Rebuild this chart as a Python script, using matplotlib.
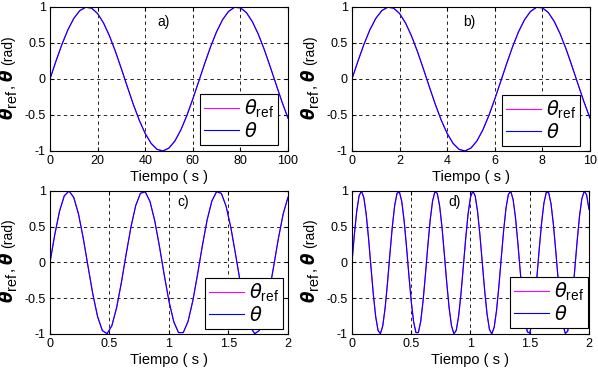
## four panels: reference angle vs. measured angle for sine inputs
import matplotlib
matplotlib.use('Agg')
from matplotlib import pyplot as plt
from matplotlib.transforms import IdentityTransform
import numpy as np

plt.rcParams['font.family'] = ['Liberation Sans', 'DejaVu Sans']
plt.rcParams['mathtext.fontset'] = 'custom'
plt.rcParams['mathtext.rm'] = 'Liberation Sans'
plt.rcParams['mathtext.it'] = 'DejaVu Sans:italic'
plt.rcParams['axes.unicode_minus'] = False

theta_ref_a = [0, 0.247, 0.479, 0.682, 0.841, 0.949, 0.997, 0.984, 0.909, 0.778,
               0.598, 0.382, 0.141, -0.108, -0.351, -0.572, -0.757, -0.895, -0.978, -0.999,
               -0.959, -0.860, -0.706, -0.508, -0.279, -0.033, 0.215, 0.450, 0.657, 0.823,
               0.938, 0.995, 0.989, 0.923, 0.798, 0.624, 0.412, 0.173, -0.075, -0.320, -0.544]
theta_a = list(theta_ref_a)   # the two traces coincide at this scale

theta_ref_b = [0, 0.247, 0.479, 0.682, 0.841, 0.949, 0.997, 0.984, 0.909, 0.778,
               0.598, 0.382, 0.141, -0.108, -0.351, -0.572, -0.757, -0.895, -0.978, -0.999,
               -0.959, -0.860, -0.706, -0.508, -0.279, -0.033, 0.215, 0.450, 0.657, 0.823,
               0.938, 0.995, 0.989, 0.923, 0.798, 0.624, 0.412, 0.173, -0.075, -0.320, -0.544]
theta_b = list(theta_ref_b)

theta_ref_c = [0, 0.389, 0.717, 0.932, 1.000, 0.909, 0.675, 0.335, -0.058, -0.443,
               -0.757, -0.952, -0.996, -0.883, -0.631, -0.279, 0.117, 0.494, 0.794, 0.968,
               0.989, 0.855, 0.585, 0.223, -0.174, -0.544, -0.828, -0.981, -0.980, -0.825,
               -0.537, -0.166, 0.231, 0.592, 0.859, 0.991, 0.966, 0.787, 0.487, 0.108,
               -0.288, -0.638, -0.886, -0.997, -0.949, -0.751, -0.434, -0.049, 0.343, 0.682, 0.913]
theta_c = list(theta_ref_c)

theta_ref_d = [0, 0.389, 0.717, 0.932, 1.000, 0.909, 0.675, 0.335, -0.058, -0.443,
               -0.757, -0.952, -0.996, -0.883, -0.631, -0.279, 0.117, 0.494, 0.794, 0.968,
               0.989, 0.855, 0.585, 0.223, -0.174, -0.544, -0.828, -0.981, -0.980, -0.825,
               -0.537, -0.166, 0.231, 0.592, 0.859, 0.991, 0.966, 0.787, 0.487, 0.108,
               -0.288, -0.638, -0.886, -0.997, -0.949, -0.751, -0.434, -0.049, 0.343, 0.682,
               0.913, 1.000, 0.929, 0.711, 0.381, -0.009, -0.398, -0.723, -0.935, -0.999,
               -0.906, -0.670, -0.327, 0.067, 0.450, 0.763, 0.954, 0.995, 0.879, 0.625,
               0.271, -0.125, -0.501, -0.799, -0.970, -0.988, -0.849, -0.578, -0.214, 0.183,
               0.551, 0.833, 0.983, 0.977, 0.818, 0.529, 0.157, -0.239, -0.598, -0.865,
               -0.992, -0.963, -0.781, -0.479, -0.099, 0.296, 0.645, 0.892, 0.998, 0.946, 0.745]
theta_d = list(theta_ref_d)

t_end = [100, 10, 2, 2]
xticks_ab = [[0, 20, 40, 60, 80, 100], [0, 2, 4, 6, 8, 10]]
xticklabels_ab = [['0', '20', '40', '60', '80', '100'], ['0', '2', '4', '6', '8', '10']]
xticks_cd = [0, 0.5, 1, 1.5, 2]
xticklabels_cd = ['0', '0.5', '1', '1.5', '2']
yticks = [-1, -0.5, 0, 0.5, 1]
yticklabels = ['-1', '-0.5', '0', '0.5', '1']
tags = ['a)', 'b)', 'c)', 'd)']

fig = plt.figure(figsize=(5.98, 3.70), dpi=100)
positions = [[0.0836, 0.5919, 0.398, 0.3892], [0.5886, 0.5919, 0.398, 0.3892],
             [0.0836, 0.0973, 0.398, 0.3865], [0.5886, 0.0973, 0.3963, 0.3865]]
tag_xy = [(0.45, 0.896), (0.466, 0.896), (0.534, 0.923), (0.405, 0.923)]
leg_anchor = [(0.958, 0.042), (0.958, 0.035), (0.979, 0.035), (0.996, 0.042)]

refs = [theta_ref_a, theta_ref_b, theta_ref_c, theta_ref_d]
meas = [theta_a, theta_b, theta_c, theta_d]
xt = [xticks_ab[0], xticks_ab[1], xticks_cd, xticks_cd]
xtl = [xticklabels_ab[0], xticklabels_ab[1], xticklabels_cd, xticklabels_cd]

renderer = fig.canvas.get_renderer()
W, H = fig.get_size_inches() * fig.dpi

def theta_ylabel(ax):
    # MATLAB-like label: big bold theta, big subscript, smaller "(rad)"
    bb = ax.get_position()
    xb = bb.x0 * W - 37
    y = bb.y0 * H + 32
    pieces = [('θ', dict(family='DejaVu Sans', weight='bold', style='italic', size=12), 0, 1),
              ('ref', dict(size=10.5), 3, 1),
              (',', dict(size=11), 0, 3),
              ('θ', dict(family='DejaVu Sans', weight='bold', style='italic', size=12), 0, 5),
              ('(rad)', dict(size=10), -1, 0)]
    for txt, props, dx, gap in pieces:
        t = fig.text(xb + dx, y, txt, transform=IdentityTransform(), rotation=90,
                     rotation_mode='anchor', ha='left', va='baseline', **props)
        y += t.get_window_extent(renderer).height + gap

for i in range(4):
    ax = fig.add_axes(positions[i])
    tt = np.linspace(0, t_end[i], len(refs[i]))   # sample times
    ax.plot(tt, refs[i], color='#ff00ff', linewidth=0.8, label=r'$\theta_{\rm ref}$')
    ax.plot(tt, meas[i], color='#0000ff', linewidth=0.8, label=r'$\theta$')
    ax.set_xlim(0, t_end[i])
    ax.set_ylim(-1, 1)
    ax.set_xticks(xt[i])
    ax.set_xticklabels(xtl[i])
    ax.set_yticks(yticks)
    ax.set_yticklabels(yticklabels)
    ax.tick_params(direction='in', top=True, right=True, length=3, width=0.8,
                   labelsize=9, pad=3)
    ax.grid(True, color='black', linestyle=(0, (4, 4)), linewidth=0.6)
    for s in ax.spines.values():
        s.set_linewidth(0.8)
    ax.set_xlabel('Tiempo ( s )', fontsize=10.5, labelpad=2)
    ax.text(tag_xy[i][0], tag_xy[i][1], tags[i], transform=ax.transAxes,
            fontsize=10, ha='left', va='center')
    leg = ax.legend(loc='lower right', bbox_to_anchor=leg_anchor[i], borderaxespad=0,
                    fontsize=14, handlelength=1.8, handletextpad=0.25, borderpad=0.2,
                    labelspacing=0.1, fancybox=False, framealpha=1, edgecolor='black')
    leg.get_frame().set_linewidth(0.8)
    theta_ylabel(ax)

plt.savefig('out.png', dpi=100)
